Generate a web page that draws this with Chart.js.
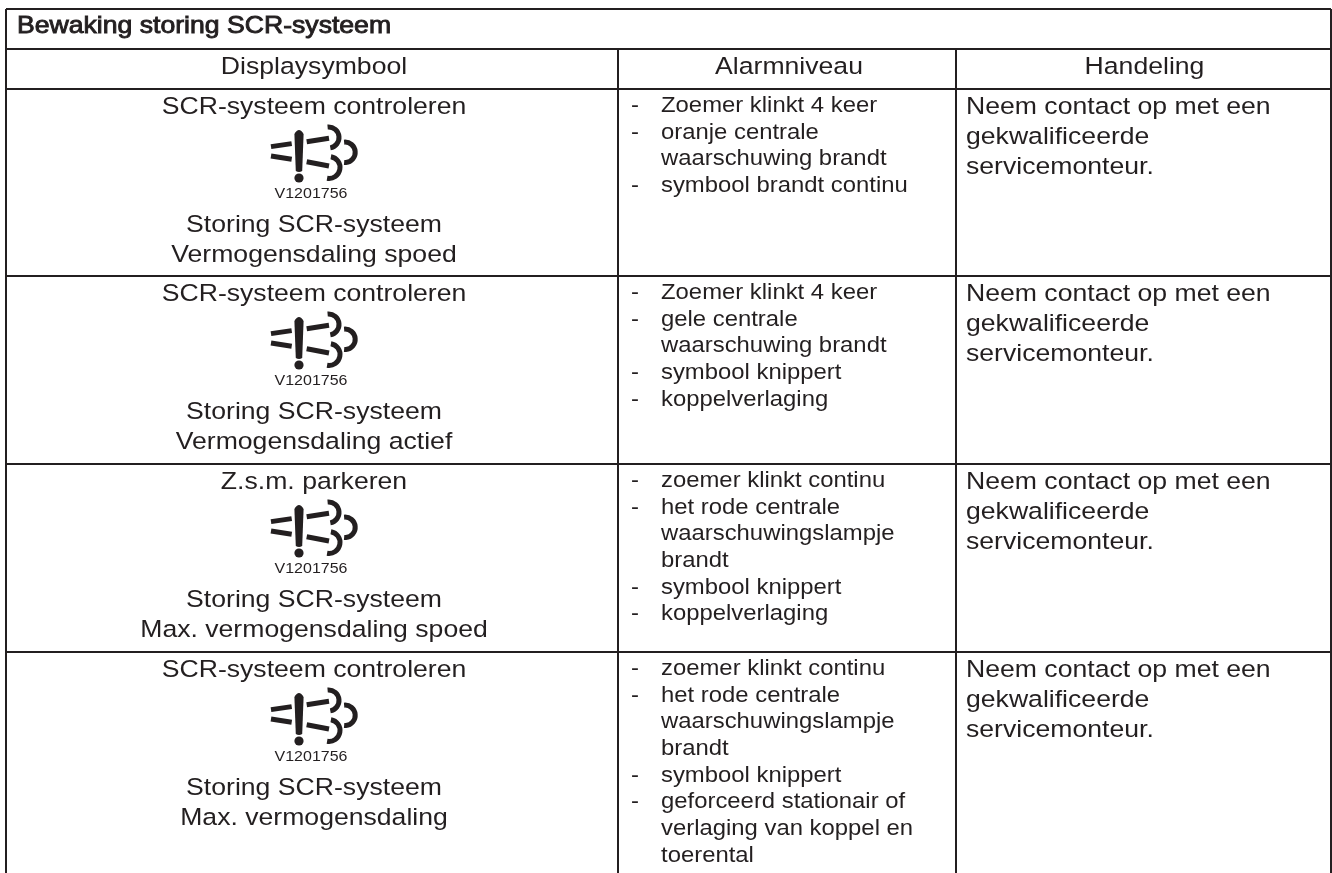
<!DOCTYPE html>
<html lang="nl">
<head>
<meta charset="UTF-8">
<title>Bewaking storing SCR-systeem</title>
<script src="https://cdn.jsdelivr.net/npm/chart.js"></script>
<style>
  html, body { margin: 0; padding: 0; background: #fff; overflow: hidden; }
  canvas { display: block; }
</style>
</head>
<body>
<canvas id="table" width="1332" height="873"></canvas>
<script>
// table contents
var tableTitle = 'Bewaking storing SCR-systeem';
var columnHeaders = ['Displaysymbool', 'Alarmniveau', 'Handeling'];
var symbolTop = ['SCR-systeem controleren', 'SCR-systeem controleren', 'Z.s.m. parkeren', 'SCR-systeem controleren'];
var symbolBottom = [
  ['Storing SCR-systeem', 'Vermogensdaling spoed'],
  ['Storing SCR-systeem', 'Vermogensdaling actief'],
  ['Storing SCR-systeem', 'Max. vermogensdaling spoed'],
  ['Storing SCR-systeem', 'Max. vermogensdaling']
];
var symbolCode = 'V1201756';
// '- ' starts a bullet, other lines continue the one before
var alarmLines = [
  ['- Zoemer klinkt 4 keer', '- oranje centrale', 'waarschuwing brandt', '- symbool brandt continu'],
  ['- Zoemer klinkt 4 keer', '- gele centrale', 'waarschuwing brandt', '- symbool knippert', '- koppelverlaging'],
  ['- zoemer klinkt continu', '- het rode centrale', 'waarschuwingslampje', 'brandt', '- symbool knippert', '- koppelverlaging'],
  ['- zoemer klinkt continu', '- het rode centrale', 'waarschuwingslampje', 'brandt', '- symbool knippert', '- geforceerd stationair of', 'verlaging van koppel en', 'toerental']
];
var actionLines = ['Neem contact op met een', 'gekwalificeerde', 'servicemonteur.'];

// table geometry, in page pixels
var colEdges = [6, 618, 956, 1331];
var rowEdges = [9, 49, 89, 276, 464, 652];
var pageBottom = 873;
var ink = '#231f20';
var fontName = '"Liberation Sans", Arial, sans-serif';
var bodySize = 24.3;
var alarmSize = 21.8;
var codeSize = 14.6;
var textStretch = 1.095; // the source type is a little wider than it is tall

function line(points) {
  return {
    type: 'line', data: points, borderColor: ink, borderWidth: 2,
    pointRadius: 0, tension: 0, fill: false
  };
}

var rules = [];
rowEdges.forEach(function (y) {
  rules.push(line([{x: colEdges[0], y: y}, {x: colEdges[3], y: y}]));
});
rules.push(line([{x: colEdges[0], y: rowEdges[0]}, {x: colEdges[0], y: pageBottom}]));
rules.push(line([{x: colEdges[3], y: rowEdges[0]}, {x: colEdges[3], y: pageBottom}]));
rules.push(line([{x: colEdges[1], y: rowEdges[1]}, {x: colEdges[1], y: pageBottom}]));
rules.push(line([{x: colEdges[2], y: rowEdges[1]}, {x: colEdges[2], y: pageBottom}]));

function drawIcon(ctx, cx, top) {
  // cx = centre of the exclamation bar, top = top of the bar
  ctx.save();
  ctx.translate(cx, top);
  ctx.strokeStyle = ink;
  ctx.fillStyle = ink;
  ctx.lineCap = 'butt';
  ctx.beginPath();
  ctx.moveTo(-4.6, 4); ctx.quadraticCurveTo(0, -4, 4.6, 4);
  ctx.lineTo(3.2, 41); ctx.quadraticCurveTo(0, 43, -3.2, 41); ctx.closePath();
  ctx.fill();
  ctx.beginPath(); ctx.arc(0, 48, 4.6, 0, Math.PI * 2); ctx.fill();
  ctx.lineWidth = 5;
  [[-28, 16.6, -7.3, 13.6], [-28, 26, -7.3, 29.3], [7.7, 11.7, 30, 8.3], [7.7, 31.7, 30, 36]].forEach(function (d) {
    ctx.beginPath(); ctx.moveTo(d[0], d[1]); ctx.lineTo(d[2], d[3]); ctx.stroke();
  });
  // the three arcs of the exhaust cloud: centre x, centre y, radius, start and end angle in degrees
  [[29.5, 7.5, 10.5, -95, 80], [46, 22.3, 10.2, -95, 95], [30, 37.5, 11, -80, 100]].forEach(function (a) {
    ctx.beginPath();
    ctx.arc(a[0], a[1], a[2], a[3] * Math.PI / 180, a[4] * Math.PI / 180);
    ctx.stroke();
  });
  ctx.restore();
}

var tableText = {
  id: 'tableText',
  afterDatasetsDraw: function (chart) {
    var ctx = chart.ctx, xs = chart.scales.x, ys = chart.scales.y;
    function text(str, x, y, size, align, outline) {
      ctx.save();
      ctx.translate(xs.getPixelForValue(x), ys.getPixelForValue(y));
      ctx.scale(textStretch, 1);
      ctx.font = size + 'px ' + fontName;
      ctx.textAlign = align;
      ctx.textBaseline = 'alphabetic';
      ctx.fillStyle = ink;
      ctx.fillText(str, 0, 0);
      if (outline) {
        // the title is a stroked regular face rather than a real bold
        ctx.strokeStyle = ink;
        ctx.lineWidth = outline;
        ctx.strokeText(str, 0, 0);
      }
      ctx.restore();
    }
    var midA = (colEdges[0] + colEdges[1]) / 2 + 2;
    var midB = (colEdges[1] + colEdges[2]) / 2 + 2;
    var midC = (colEdges[2] + colEdges[3]) / 2 + 1;

    text(tableTitle, 17, 33, bodySize, 'left', 0.9);
    text(columnHeaders[0], midA, 74, bodySize, 'center');
    text(columnHeaders[1], midB, 74, bodySize, 'center');
    text(columnHeaders[2], midC, 74, bodySize, 'center');

    symbolTop.forEach(function (top, i) {
      var y0 = rowEdges[i + 2];
      text(top, midA, y0 + 25, bodySize, 'center');
      drawIcon(ctx, xs.getPixelForValue(299), ys.getPixelForValue(y0 + 41));
      text(symbolCode, 311, y0 + 109, codeSize, 'center');
      text(symbolBottom[i][0], midA, y0 + 143, bodySize, 'center');
      text(symbolBottom[i][1], midA, y0 + 173, bodySize, 'center');

      alarmLines[i].forEach(function (ln, j) {
        var y = y0 + 23 + j * 26.67;
        if (ln.indexOf('- ') === 0) {
          text('-', colEdges[1] + 13, y, alarmSize, 'left');
          text(ln.slice(2), colEdges[1] + 43, y, alarmSize, 'left');
        } else {
          text(ln, colEdges[1] + 43, y, alarmSize, 'left');
        }
      });
      actionLines.forEach(function (ln, j) {
        text(ln, colEdges[2] + 10, y0 + 25 + j * 30, bodySize, 'left');
      });
    });
  }
};

new Chart(document.getElementById('table'), {
  type: 'scatter',
  data: { datasets: rules },
  options: {
    responsive: false,
    animation: false,
    layout: { padding: 0 },
    plugins: { legend: { display: false }, tooltip: { enabled: false } },
    scales: {
      x: { type: 'linear', min: 0, max: 1332, display: false },
      y: { type: 'linear', min: 0, max: 873, reverse: true, display: false }
    }
  },
  plugins: [tableText]
});
</script>
</body>
</html>
